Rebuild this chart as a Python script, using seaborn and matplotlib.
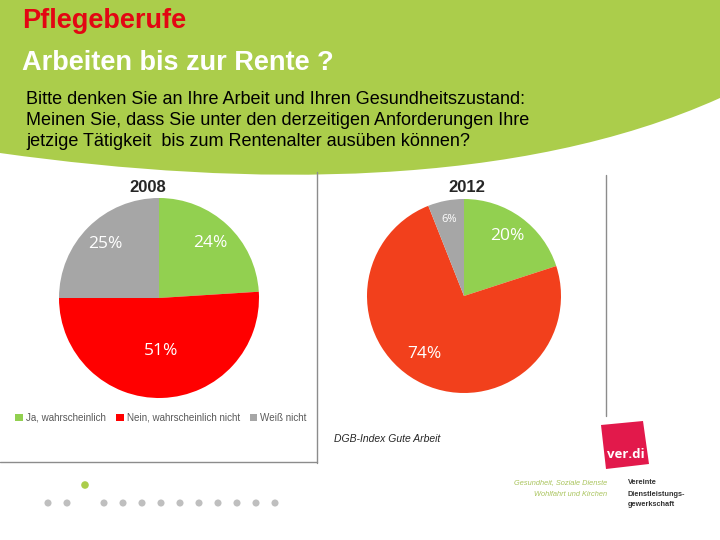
import numpy as np
import matplotlib
matplotlib.use("Agg")
import matplotlib.pyplot as plt
from matplotlib.patches import PathPatch, Polygon
from matplotlib.path import Path
import seaborn as sns

# Survey data (DGB-Index Gute Arbeit, Pflegeberufe)
categories = ["Ja, wahrscheinlich", "Nein, wahrscheinlich nicht", "Weiß nicht"]
share_2008 = [24, 51, 25]
share_2012 = [20, 74, 6]
years = ["2008", "2012"]

colors_2008 = ["#92d050", "#ff0000", "#a6a6a6"]
colors_2012 = ["#92d050", "#f2401c", "#a6a6a6"]

sns.set_theme(style="white")
plt.rcParams["font.family"] = ["Liberation Sans", "DejaVu Sans"]

W, H = 720, 540
fig = plt.figure(figsize=(7.2, 5.4), dpi=100)
fig.patch.set_facecolor("white")

# background layer in pixel coordinates
bg = fig.add_axes([0, 0, 1, 1])
bg.set_xlim(0, W)
bg.set_ylim(H, 0)
bg.axis("off")

# green curved banner
verts = [(0, 0), (W, 0), (W, 98), (520, 188), (250, 188), (0, 153), (0, 0)]
codes = [Path.MOVETO, Path.LINETO, Path.LINETO, Path.CURVE4, Path.CURVE4, Path.CURVE4, Path.CLOSEPOLY]
bg.add_patch(PathPatch(Path(verts, codes), facecolor="#abcd4b", edgecolor="none"))

bg.text(22, 21, "Pflegeberufe", color="#e30613", fontsize=19.5, fontweight="bold", va="center")
bg.text(22, 63, "Arbeiten bis zur Rente ?", color="white", fontsize=19.5, fontweight="bold", va="center")
question = ["Bitte denken Sie an Ihre Arbeit und Ihren Gesundheitszustand:",
            "Meinen Sie, dass Sie unter den derzeitigen Anforderungen Ihre",
            "jetzige Tätigkeit  bis zum Rentenalter ausüben können?"]
for i, line in enumerate(question):
    bg.text(26, 100 + i * 20.5, line, color="black", fontsize=13, va="center")

# panel frames
frame = "#8c8c8c"
bg.plot([317, 317], [172, 463], color=frame, lw=1)
bg.plot([0, 317], [462, 462], color=frame, lw=1)
bg.plot([606, 606], [175, 416], color=frame, lw=1)

bg.text(148, 188, years[0], fontsize=12, fontweight="bold", ha="center", va="center")
bg.text(467, 188, years[1], fontsize=12, fontweight="bold", ha="center", va="center")
bg.text(334, 439, "DGB-Index Gute Arbeit", fontsize=7.5, style="italic", va="center")


def pie_axes(cx, cy, r):
    return fig.add_axes([(cx - r) / W, 1 - (cy + r) / H, 2 * r / W, 2 * r / H])


def draw_pie(ax, values, colors, dists, sizes, shifts):
    wedges, _ = ax.pie(values, colors=colors, startangle=90, counterclock=False,
                       wedgeprops=dict(linewidth=0))
    total = sum(values)
    cum = np.cumsum(values)
    for v, c, d, s, sh in zip(values, cum, dists, sizes, shifts):
        theta = np.deg2rad(90 - 360 * (c - v / 2) / total + sh)
        ax.text(d * np.cos(theta), d * np.sin(theta), f"{v}%", color="white",
                fontsize=s, ha="center", va="center", family=["Open Sans", "DejaVu Sans"])
    ax.set_xlim(-1, 1)
    ax.set_ylim(-1, 1)
    ax.axis("off")
    return wedges


ax1 = pie_axes(159, 298, 100)
wedges = draw_pie(ax1, share_2008, colors_2008, [0.75, 0.53, 0.76], [12.5, 12.5, 12.5], [0, 0, 0])
ax2 = pie_axes(464, 296, 97)
draw_pie(ax2, share_2012, colors_2012, [0.76, 0.72, 0.8], [12.5, 12.5, 8], [0, -9, 0])

fig.legend(wedges, categories, loc="center", bbox_to_anchor=(161 / W, 1 - 418 / H), ncol=3,
           frameon=False, fontsize=7.1, handlelength=0.8, handleheight=0.8,
           columnspacing=1.0, handletextpad=0.3, labelcolor="#595959")

# footer dots
dot_x = [48, 67] + list(range(104, 280, 19))
bg.scatter(dot_x, [503] * len(dot_x), s=26, color="#bfbfbf", edgecolor="none")
bg.scatter([85], [485], s=30, color="#abcd4b", edgecolor="none")

# ver.di logo
bg.add_patch(Polygon([(601, 425), (643, 421), (649, 464), (606, 469)], closed=True,
                     facecolor="#e2194b", edgecolor="none"))
bg.text(626, 455, "ver.di", color="white", fontsize=9.5, fontweight="bold",
        ha="center", va="center", family=["Open Sans", "DejaVu Sans"])
bg.text(607, 483, "Gesundheit, Soziale Dienste", color="#a9c45c", fontsize=5.3,
        style="italic", ha="right", va="center")
bg.text(607, 494, "Wohlfahrt und Kirchen", color="#a9c45c", fontsize=5.3,
        style="italic", ha="right", va="center")
for i, line in enumerate(["Vereinte", "Dienstleistungs-", "gewerkschaft"]):
    bg.text(628, 483 + i * 11, line, color="#333333", fontsize=5.3,
            fontweight="bold", va="center")

fig.savefig("out.png", dpi=100)
